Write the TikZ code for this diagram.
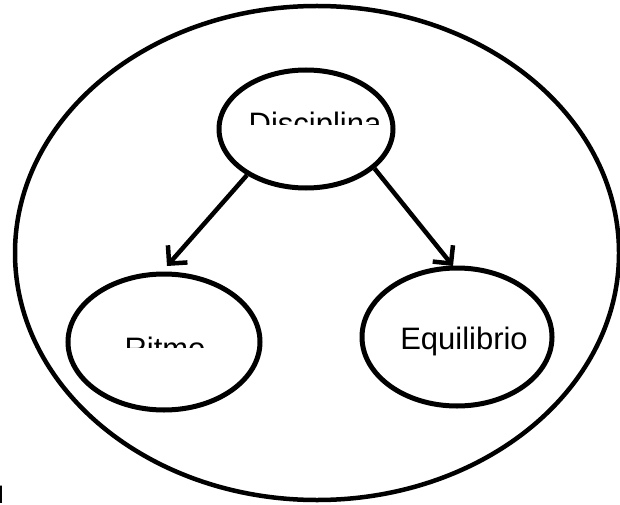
\documentclass[tikz,border=0pt]{standalone}
\usepackage{fontspec}
\setmainfont{Liberation Sans}
\usetikzlibrary{shapes.geometric,arrows.meta}
\begin{document}
\begin{tikzpicture}[x=1pt,y=-1pt,
  oval/.style={ellipse,draw=black,line width=5pt,inner sep=0pt,fill=none},
  lbl/.style={inner sep=0pt,anchor=base,font=\fontsize{31}{36}\selectfont},
  arr/.style={line width=4.5pt,-{Straight Barb[length=13pt,width=26pt,line width=4.5pt]}}]
\useasboundingbox (0,0) rectangle (620,505);
\node[oval,line width=4.5pt,minimum width=604pt,minimum height=494pt] (outer) at (317,253) {};
\node[oval,minimum width=174pt,minimum height=118pt] (disc) at (306,129) {};
\node[oval,minimum width=192pt,minimum height=136pt] (ritmo) at (164,342) {};
\node[oval,minimum width=190pt,minimum height=138pt] (equi) at (457,337) {};
\begin{scope}
  \clip (230,95) rectangle (400,125);
  \node[lbl] (tdisc) at (315,135) {Disciplina};
\end{scope}
\begin{scope}
  \clip (100,320) rectangle (240,347);
  \node[lbl] (tritmo) at (165,359) {Ritmo};
\end{scope}
\node[lbl] (tequi) at (464,349) {Equilibrio};
\node[inner sep=0pt,anchor=base east,font=\fontsize{24}{28}\selectfont] (d) at (4,503) {d};
\coordinate (rtip) at (167,266);
\coordinate (etip) at (453,266);
\draw[arr] (disc.218) -- (rtip);
\draw[arr] (disc.-30) -- (etip);
\end{tikzpicture}
\end{document}
